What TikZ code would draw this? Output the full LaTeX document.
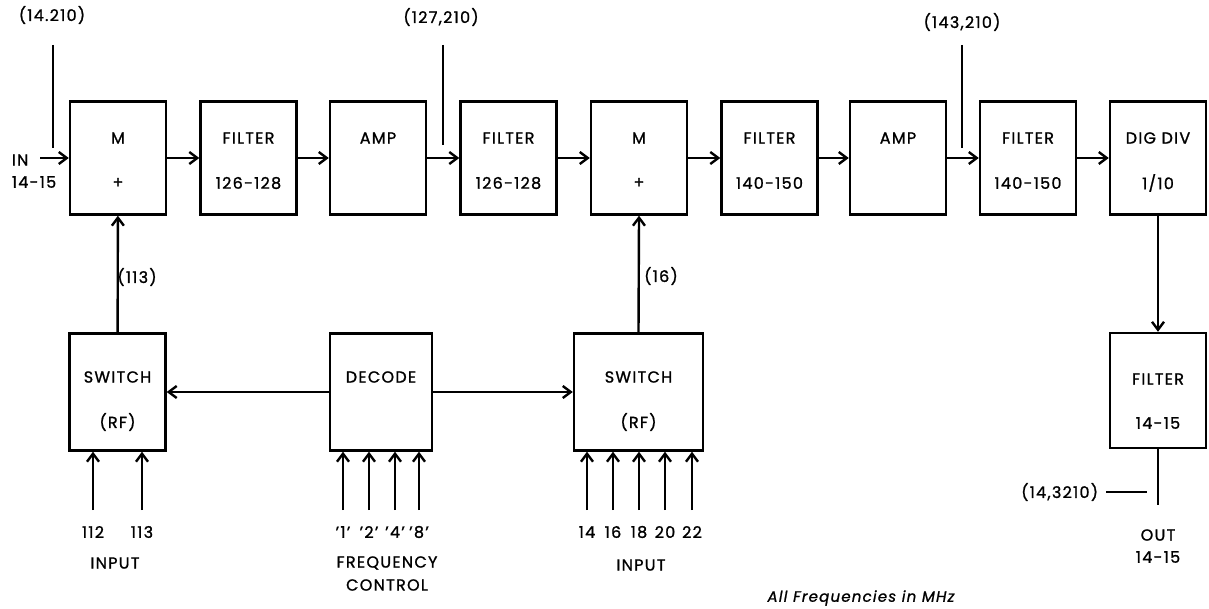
\documentclass[tikz,border=0pt]{standalone}
\usepackage{fontspec}
\setmainfont{Poppins}[LetterSpace=8, FakeBold=1.2]
\usetikzlibrary{arrows.meta}
\tikzset{
  blk/.style={draw, line width=1.2pt, minimum width=48pt, minimum height=56.5pt, inner sep=0pt},
  lbl/.style={inner sep=0.75pt, font=\fontsize{8}{9}\selectfont},
  note/.style={inner sep=0.75pt, font=\fontsize{7.5}{9}\selectfont\itshape},
  wire/.style={line width=1.2pt},
  feed/.style={wire, -{Straight Barb[length=4pt,width=6pt]}},
}
\begin{document}
\begin{tikzpicture}[x=0.5pt,y=0.5pt,yscale=-1,xscale=1]
\useasboundingbox (0,0) rectangle (1209,609);

%Shape: Rectangle (top row)
\draw (118,158) node [blk] (mixA) {};
\draw (248.5,158) node [blk] (fltA) {};
\draw (378,158) node [blk] (ampA) {};
\draw (508.5,158) node [blk] (fltB) {};
\draw (639,158) node [blk] (mixB) {};
\draw (769.5,158) node [blk] (fltC) {};
\draw (898,158) node [blk] (ampB) {};
\draw (1028,158) node [blk] (fltD) {};
\draw (1158,158) node [blk] (divA) {};
%Shape: Rectangle (bottom row)
\draw (117.5,392) node [blk, minimum height=58.5pt] (swA) {};
\draw (381,392) node [blk, minimum width=51pt, minimum height=58.5pt] (dec) {};
\draw (638.5,392) node [blk, minimum width=64.5pt, minimum height=58.5pt] (swB) {};
\draw (1158,390.5) node [blk, minimum height=57.5pt] (fltE) {};

% Text Node
\draw (118,138) node [lbl] {M};
\draw (118,183) node [lbl] {+};
\draw (248.5,138) node [lbl] {FILTER};
\draw (248.5,183) node [lbl] {126-128};
\draw (378,138) node [lbl] {AMP};
\draw (508.5,138) node [lbl] {FILTER};
\draw (508.5,183) node [lbl] {126-128};
\draw (639,138) node [lbl] {M};
\draw (639,183) node [lbl] {+};
\draw (769.5,138) node [lbl] {FILTER};
\draw (769.5,183) node [lbl] {140-150};
\draw (898,138) node [lbl] {AMP};
\draw (1028,138) node [lbl] {FILTER};
\draw (1028,183) node [lbl] {140-150};
\draw (1158,138) node [lbl] {DIG DIV};
\draw (1158,183) node [lbl] {1/10};
\draw (117.5,377) node [lbl] {SWITCH};
\draw (117.5,422) node [lbl] {(RF)};
\draw (381,377) node [lbl] {DECODE};
\draw (638.5,377) node [lbl] {SWITCH};
\draw (638.5,422) node [lbl] {(RF)};
\draw (1158,379) node [lbl] {FILTER};
\draw (1158,423) node [lbl] {14-15};

% Text Node (taps)
\draw (52,15) node [lbl] (tapAtxt) {(14.210)};
\draw (441,17) node [lbl] (tapBtxt) {(127,210)};
\draw (962,22) node [lbl] (tapCtxt) {(143,210)};
\draw (137,277) node [lbl] {(113)};
\draw (661,276) node [lbl] {(16)};
\draw (10,160) node [lbl, anchor=west] {IN};
\draw (10,182) node [lbl, anchor=west] {14-15};
\draw (1100,492) node [lbl, anchor=east] (outtxt) {(14,3210)};
\draw (1158,535) node [lbl] {OUT};
\draw (1158,557) node [lbl] {14-15};
\draw (115,563) node [lbl] {INPUT};
\draw (387,563) node [lbl] {FREQUENCY};
\draw (387,585) node [lbl] {CONTROL};
\draw (641,565) node [lbl] {INPUT};
\draw (861,598) node [note] {All Frequencies in MHz};

% signal chain
\coordinate (inA) at (40,158);
\draw [feed] (inA) -- (mixA.west);
\draw [feed] (mixA) -- (fltA);
\draw [feed] (fltA) -- (ampA);
\draw [feed] (ampA) -- (fltB);
\draw [feed] (fltB) -- (mixB);
\draw [feed] (mixB) -- (fltC);
\draw [feed] (fltC) -- (ampB);
\draw [feed] (ampB) -- (fltD);
\draw [feed] (fltD) -- (divA);
\draw [feed] (divA) -- (fltE);
\coordinate (outEnd) at (1158,505);
\draw [wire] (fltE) -- (outEnd);
\coordinate (dashA) at (1106,492);
\coordinate (dashB) at (1147,492);
\draw [wire] (dashA) -- (dashB);

% test taps
\coordinate (tapA) at (53,45);
\coordinate (tapAend) at (53,148);
\draw [wire] (tapA) -- (tapAend);
\coordinate (tapB) at (443,45);
\coordinate (tapBend) at (443,145);
\draw [wire] (tapB) -- (tapBend);
\coordinate (tapC) at (962,45);
\coordinate (tapCend) at (962,148);
\draw [wire] (tapC) -- (tapCend);

% local oscillators and control
\draw [feed] (swA) -- (mixA);
\draw [feed] (swB.north) -- (mixB.south);
\draw [feed] (dec) -- (swA);
\draw [feed] (dec) -- (swB);

% inputs
\foreach \x/\t in {93/112,142/113}{
  \draw (\x,532) node [lbl] {\t};
  \draw [feed] (\x,510) coordinate (sel\t) -- (sel\t |- swA.south);
}
\foreach \x/\t in {343/1,369/2,395/4,419/8}{
  \draw (\x,532) node [lbl] {'\t'};
  \draw [feed] (\x,510) coordinate (bit\t) -- (bit\t |- dec.south);
}
\foreach \x/\t in {587/14,613/16,639/18,665/20,692/22}{
  \draw (\x,532) node [lbl] {\t};
  \draw [feed] (\x,510) coordinate (osc\t) -- (osc\t |- swB.south);
}
\end{tikzpicture}
\end{document}
